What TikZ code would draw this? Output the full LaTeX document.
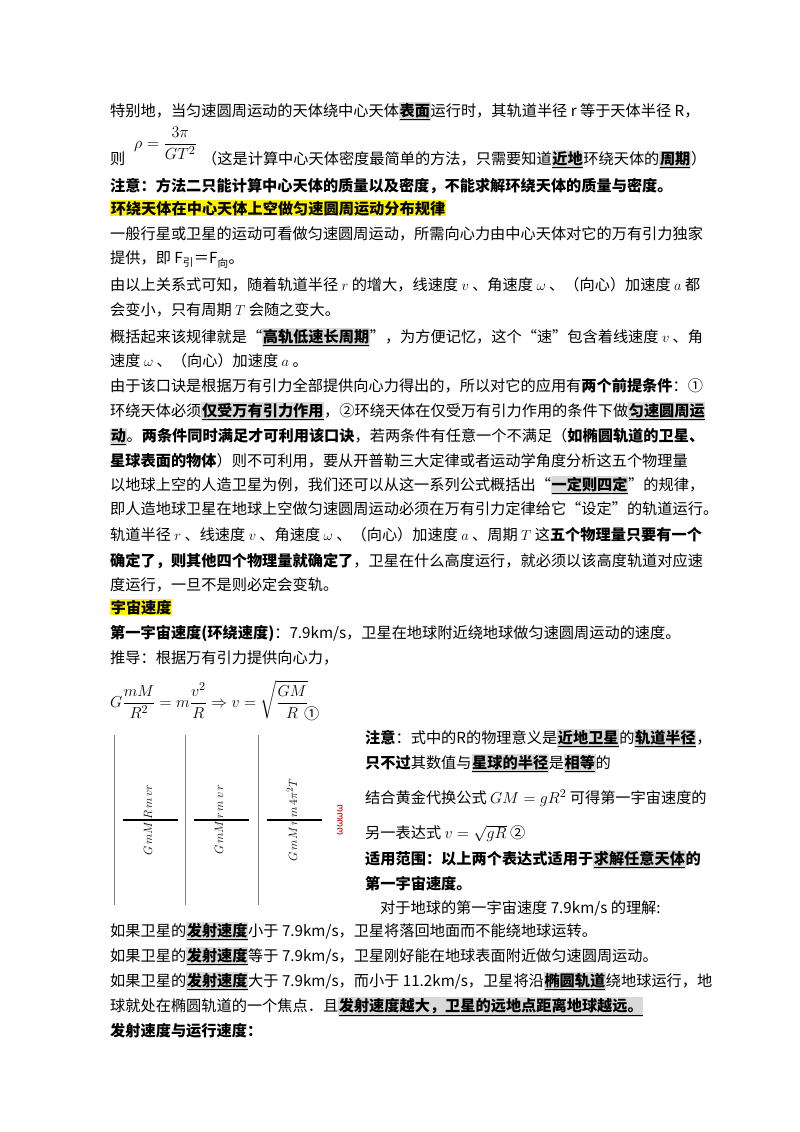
\documentclass[tikz,border=0pt]{standalone}
\usepackage{fontspec}
\setmainfont{Noto Sans CJK SC}
\usepackage{amsmath}
\usepackage{graphicx}
\newcommand\kw[1]{{\setlength{\fboxsep}{0.6pt}\colorbox{gray!30}{\underline{\textbf{#1}}}}}
\newcommand\hy[1]{{\setlength{\fboxsep}{0.6pt}\colorbox{yellow}{\textbf{#1}}}}
\begin{document}
\begin{tikzpicture}[x=1pt,y=-1pt,
  ln/.style={anchor=base west,inner sep=0pt,font=\fontsize{15.2}{18}\selectfont}]
\useasboundingbox (0,0) rectangle (800,1132);
\fill[white] (0,0) rectangle (800,1132);
\node[ln] (l1) at (110,116) {特别地，当匀速圆周运动的天体绕中心天体\kw{表面}运行时，其轨道半径 r 等于天体半径 R，};
\node[ln] (l2a) at (110,164) {则};
\node[ln,anchor=west] (l2f) at (134,143) {\scalebox{1.12}{$\displaystyle \rho=\frac{3\pi}{GT^{2}}$}};
\node[ln] (l2b) at (202,164) {（这是计算中心天体密度最简单的方法，只需要知道\kw{近地}环绕天体的\kw{周期}）};
\node[ln] (l3) at (110,191) {\textbf{注意：方法二只能计算中心天体的质量以及密度，不能求解环绕天体的质量与密度。}};
\node[ln] (l4) at (110,214) {\hy{环绕天体在中心天体上空做匀速圆周运动分布规律}};
\node[ln] (l5) at (110,239) {一般行星或卫星的运动可看做匀速圆周运动，所需向心力由中心天体对它的万有引力独家};
\node[ln] (l6) at (110,263) {提供，即 F\textsubscript{引}＝F\textsubscript{向}。};
\node[ln] (l7) at (110,290) {由以上关系式可知，随着轨道半径 $r$ 的增大，线速度 $v$ 、角速度 $\omega$ 、（向心）加速度 $a$ 都};
\node[ln] (l8) at (110,315) {会变小，只有周期 $T$ 会随之变大。};
\node[ln] (l9) at (110,342) {概括起来该规律就是“\kw{高轨低速长周期}”，为方便记忆，这个“速”包含着线速度 $v$ 、角};
\node[ln] (l10) at (110,366) {速度 $\omega$ 、（向心）加速度 $a$ 。};
\node[ln] (l11) at (110,391) {由于该口诀是根据万有引力全部提供向心力得出的，所以对它的应用有\textbf{两个前提条件}：①};
\node[ln] (l12) at (110,416) {环绕天体必须\kw{仅受万有引力作用}，②环绕天体在仅受万有引力作用的条件下做\kw{匀速圆周运}};
\node[ln] (l13) at (110,441) {\kw{动}。\textbf{两条件同时满足才可利用该口诀}，若两条件有任意一个不满足（\textbf{如椭圆轨道的卫星、}};
\node[ln] (l14) at (110,466) {\textbf{星球表面的物体}）则不可利用，要从开普勒三大定律或者运动学角度分析这五个物理量};
\node[ln] (l15) at (110,490) {以地球上空的人造卫星为例，我们还可以从这一系列公式概括出“\kw{一定则四定}”的规律，};
\node[ln] (l16) at (110,514) {即人造地球卫星在地球上空做匀速圆周运动必须在万有引力定律给它“设定”的轨道运行。};
\node[ln] (l17) at (110,540) {轨道半径 $r$ 、线速度 $v$ 、角速度 $\omega$ 、（向心）加速度 $a$ 、周期 $T$ 这\textbf{五个物理量只要有一个}};
\node[ln] (l18) at (110,566) {\textbf{确定了，则其他四个物理量就确定了}，卫星在什么高度运行，就必须以该高度轨道对应速};
\node[ln] (l19) at (110,590) {度运行，一旦不是则必定会变轨。};
\node[ln] (l20) at (110,613) {\hy{宇宙速度}};
\node[ln] (l21) at (110,638) {\textbf{第一宇宙速度(环绕速度)}：7.9km/s，卫星在地球附近绕地球做匀速圆周运动的速度。};
\node[ln] (l22) at (110,663) {推导：根据万有引力提供向心力，};
\node[ln,anchor=west] (l23) at (110,700) {\scalebox{1.1}{$\displaystyle G\frac{mM}{R^{2}}=m\frac{v^{2}}{R}\Rightarrow v=\sqrt{\frac{GM}{R}}$}};
\node[ln] (l23b) at (304,719) {①};
% garbled image region
\foreach \xx in {114,185,258}{\draw[gray,line width=0.5pt] (\xx,735) -- (\xx,905);}
\foreach \xx/\txt in {118/{G\,mM\,R\,m\,v r}, 189/{G\,mM\,r\,m\,v\,r}, 262/{G\,mM\,r\,m\,4\pi^2 T}}{
  \node[rotate=90,font=\fontsize{13}{13}\selectfont,anchor=center] at (\xx+30,820) {$\txt$};
  \draw[line width=2pt] (\xx+5,820) -- (\xx+60,820);}
\node[rotate=90,text=red!70!black,font=\fontsize{10}{10}\selectfont] at (340,820) {ωωωω};
\node[ln] (n1) at (365,743) {\textbf{注意}：式中的R的物理意义是\kw{近地卫星}的\kw{轨道半径}，};
\node[ln] (n2) at (365,768) {\textbf{只不过}其数值与\kw{星球的半径}是\kw{相等}的};
\node[ln] (n3) at (365,803) {结合黄金代换公式 \scalebox{1.1}{$GM=gR^{2}$} 可得第一宇宙速度的};
\node[ln] (n4) at (365,838) {另一表达式 \scalebox{1.1}{$v=\sqrt{gR}$} ②};
\node[ln] (n5) at (365,864) {\textbf{适用范围：以上两个表达式适用于\kw{求解任意天体}的}};
\node[ln] (n6) at (365,889) {\textbf{第一宇宙速度。}};
\node[ln] (n7) at (380,913) {对于地球的第一宇宙速度 7.9km/s 的理解:};
\node[ln] (m1) at (110,936) {如果卫星的\kw{发射速度}小于 7.9km/s，卫星将落回地面而不能绕地球运转。};
\node[ln] (m2) at (110,961) {如果卫星的\kw{发射速度}等于 7.9km/s，卫星刚好能在地球表面附近做匀速圆周运动。};
\node[ln] (m3) at (110,986) {如果卫星的\kw{发射速度}大于 7.9km/s，而小于 11.2km/s，卫星将沿\kw{椭圆轨道}绕地球运行，地};
\node[ln] (m4) at (110,1011) {球就处在椭圆轨道的一个焦点．且\kw{发射速度越大，卫星的远地点距离地球越远。}};
\node[ln] (m5) at (110,1036) {\textbf{发射速度与运行速度：}};
\end{tikzpicture}
\end{document}
